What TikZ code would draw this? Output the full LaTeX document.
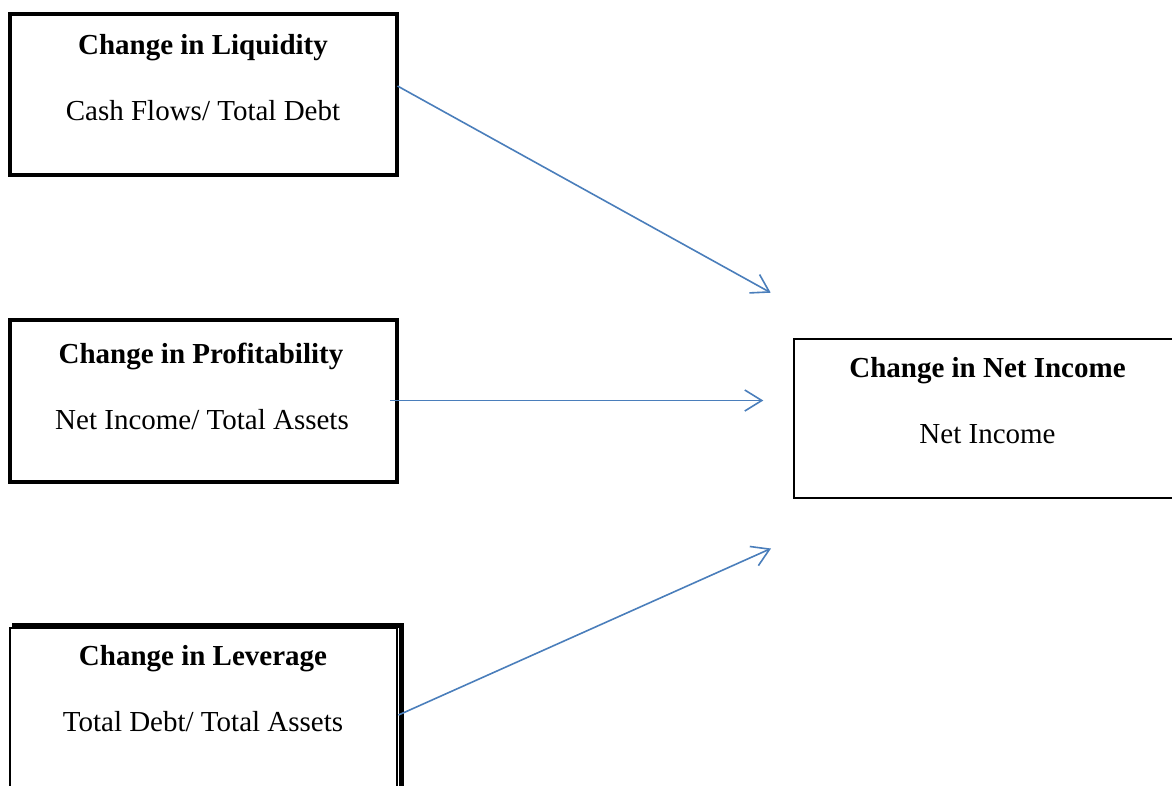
\documentclass[tikz,border=0pt]{standalone}
\usepackage{fontspec}
\setmainfont{Liberation Serif}
\usetikzlibrary{arrows.meta}
\definecolor{arrowblue}{HTML}{4A7EBB}
\tikzset{
  thickbox/.style={draw=black, line width=4pt, inner sep=0pt},
  thinbox/.style={draw=black, line width=2pt, inner sep=0pt},
  title/.style={anchor=base, inner sep=0pt, font=\fontsize{29}{34}\selectfont\bfseries},
  sub/.style={anchor=base, inner sep=0pt, font=\fontsize{29}{34}\selectfont},
  link/.style={draw=arrowblue, line width=1.6pt, -{Straight Barb[length=17pt,width=21pt,line width=1.6pt]}}
}
\begin{document}
\begin{tikzpicture}[x=1pt,y=-1pt]
\useasboundingbox (0,0) rectangle (1172,785);
\begin{scope}
\clip (0,0) rectangle (1172,785);
% boxes
\node[thickbox, minimum width=387.5pt, minimum height=161pt] (liq) at (203.25,94.25) {};
\node[thickbox, minimum width=387.5pt, minimum height=162.5pt] (prof) at (203.25,400.75) {};
\node[thinbox, minimum width=387pt, minimum height=180pt] (lev) at (203.5,718) {};
\draw[line width=4.5pt] (12,625.5) -- (401.7,625.5) -- (401.7,800);
\node[thinbox, minimum width=400pt, minimum height=159pt] (ni) at (994.3,418.9) {};
% texts
\node[title] (liqT) at (203,54) {Change in Liquidity};
\node[sub] (liqS) at (203,120) {Cash Flows/ Total Debt};
\node[title] (profT) at (201,363) {Change in Profitability};
\node[sub] (profS) at (202,429) {Net Income/ Total Assets};
\node[title] (levT) at (203,665) {Change in Leverage};
\node[sub] (levS) at (203,731) {Total Debt/ Total Assets};
\node[title] (niT) at (987.5,377) {Change in Net Income};
\node[sub] (niS) at (987.5,443) {Net Income};
% arrow endpoints
\coordinate (a1s) at (397.5,86);
\coordinate (a1e) at (770.7,292.7);
\coordinate (a2s) at (390,400.5);
\coordinate (a2e) at (763.3,400.5);
\coordinate (a3s) at (398.5,715);
\coordinate (a3e) at (771,548.5);
\draw[link] (a1s) -- (a1e);
\draw[link] (a2s) -- (a2e);
\draw[link] (a3s) -- (a3e);
\end{scope}
\end{tikzpicture}
\end{document}
